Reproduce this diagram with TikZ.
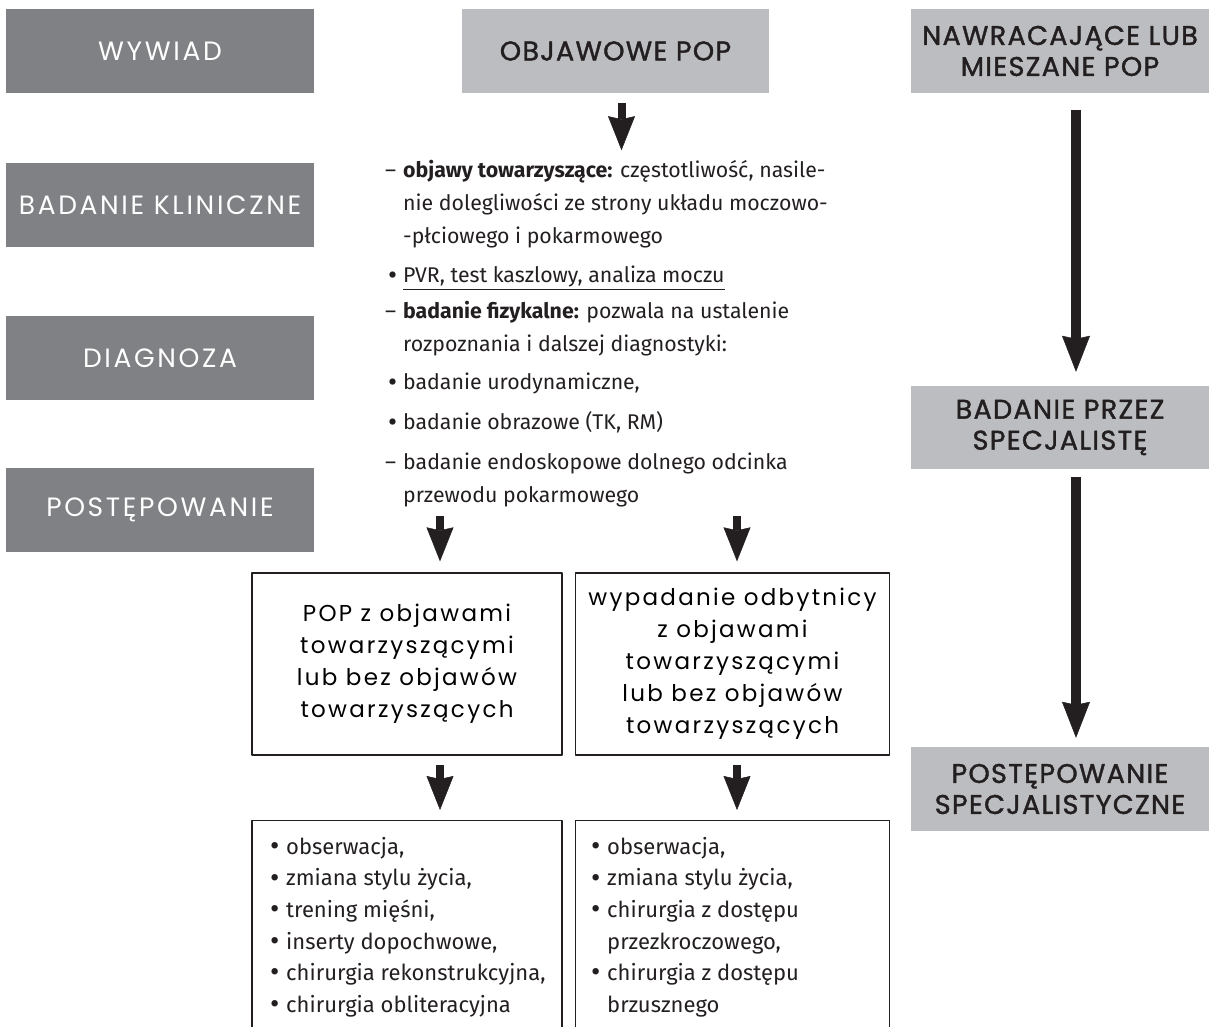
\documentclass[tikz,border=0pt]{standalone}
\usepackage{fontspec}
\setmainfont{Fira Sans}
\newfontfamily\geo{Poppins}[LetterSpace=10]
\newfontfamily\geodemi{Poppins}[FakeBold=1.5,LetterSpace=5]
\newfontfamily\geobox{Poppins}[LetterSpace=10]
\usetikzlibrary{arrows.meta,calc,positioning}
\definecolor{ciemny}{RGB}{128,129,133}
\definecolor{jasny}{RGB}{188,189,192}
\definecolor{tekst}{RGB}{35,31,32}
\newcommand\kropka{\raisebox{-0.1ex}{\scalebox{1.3}{\textbullet}}}
\tikzset{
  ciemnybox/.style={fill=ciemny,text=white,minimum width=308pt,minimum height=84pt,inner sep=0pt,font=\geo\fontsize{26.5}{30}\selectfont},
  jasnybox/.style={fill=jasny,text=tekst,minimum height=84pt,inner sep=0pt,align=center,font=\geodemi\fontsize{27}{31}\selectfont},
  ramka/.style={draw=tekst,line width=1.3pt,inner sep=0pt},
  strzalka/.style={tekst,line width=8pt,-{Stealth[length=34pt,width=27pt,inset=3pt,line width=0.5pt]}},
  dlugastrzalka/.style={tekst,line width=10pt,-{Stealth[length=36pt,width=28pt,inset=3pt,line width=0.5pt]}},
}
\begin{document}
\begin{tikzpicture}[x=1pt,y=-1pt,line join=round]
\useasboundingbox (0,0) rectangle (1209,1027);
\clip (0,0) rectangle (1209,1027);
% lewa kolumna
\node[ciemnybox] (wywiad) at (160,51) {WYWIAD};
\node[ciemnybox] (badanie) at (160,205) {BADANIE KLINICZNE};
\node[ciemnybox] (diagnoza) at (160,358) {DIAGNOZA};
\node[ciemnybox] (postep) at (160,510) {POSTĘPOWANIE};
% srodkowa kolumna
\node[jasnybox,minimum width=307pt] (objawowe) at (615.5,51) {OBJAWOWE POP};
\node[anchor=north west,align=left,inner sep=0pt,text=tekst,font=\fontsize{21.3}{33}\selectfont] (opis) at (385,160.5) {%
\makebox[18pt][l]{–}\textbf{objawy towarzyszące:} częstotliwość, nasile-\\
\hspace*{18pt}nie dolegliwości ze strony układu moczowo-\\
\hspace*{18pt}-płciowego i pokarmowego\\[6pt]
\makebox[18pt][l]{\hspace*{3pt}\kropka}\underline{PVR, test kaszlowy, analiza moczu}\\[3pt]
\makebox[18pt][l]{–}\textbf{badanie fizykalne:} pozwala na ustalenie\\
\hspace*{18pt}rozpoznania i dalszej diagnostyki:\\[5pt]
\makebox[18pt][l]{\hspace*{3pt}\kropka}badanie urodynamiczne,\\[7pt]
\makebox[18pt][l]{\hspace*{3pt}\kropka}badanie obrazowe (TK, RM)\\[7pt]
\makebox[18pt][l]{–}badanie endoskopowe dolnego odcinka\\
\hspace*{18pt}przewodu pokarmowego};
\coordinate (k1) at (440,0);
\coordinate (k2) at (737,0);
\node[ramka,minimum width=310pt,minimum height=182pt,align=center,font=\geobox\fontsize{23}{32}\selectfont] (pop1) at (407,664)
  {POP z objawami\\towarzyszącymi\\lub bez objawów\\towarzyszących};
\node[ramka,minimum width=314pt,minimum height=182pt,align=center,font=\geobox\fontsize{23}{32}\selectfont] (pop2) at (732.5,664)
  {wypadanie odbytnicy\\z objawami\\towarzyszącymi\\lub bez objawów\\towarzyszących};
\node[ramka,anchor=north,minimum width=310pt,minimum height=240pt] (lista1) at (407,820) {};
\node[ramka,anchor=north,minimum width=314pt,minimum height=240pt] (lista2) at (732.5,820) {};
\node[anchor=north west,align=left,inner sep=0pt,text=tekst,font=\fontsize{22}{31.6}\selectfont] (punkty1) at (270,837) {%
\makebox[16pt][l]{\kropka}obserwacja,\\
\makebox[16pt][l]{\kropka}zmiana stylu życia,\\
\makebox[16pt][l]{\kropka}trening mięśni,\\
\makebox[16pt][l]{\kropka}inserty dopochwowe,\\
\makebox[16pt][l]{\kropka}chirurgia rekonstrukcyjna,\\
\makebox[16pt][l]{\kropka}chirurgia obliteracyjna};
\node[anchor=north west,align=left,inner sep=0pt,text=tekst,font=\fontsize{22}{31.6}\selectfont] (punkty2) at (591,837) {%
\makebox[16pt][l]{\kropka}obserwacja,\\
\makebox[16pt][l]{\kropka}zmiana stylu życia,\\
\makebox[16pt][l]{\kropka}chirurgia z dostępu\\
\hspace*{16pt}przezkroczowego,\\
\makebox[16pt][l]{\kropka}chirurgia z dostępu\\
\hspace*{16pt}brzusznego};
% prawa kolumna
\node[jasnybox,minimum width=298pt] (nawrot) at (1060,51) {NAWRACAJĄCE LUB\\MIESZANE POP};
\node[jasnybox,minimum width=298pt,minimum height=83pt] (specbad) at (1060,427.5) {BADANIE PRZEZ\\SPECJALISTĘ};
\node[jasnybox,minimum width=298pt] (specpost) at (1060,789) {POSTĘPOWANIE\\SPECJALISTYCZNE};
% strzalki
\draw[strzalka] ($(objawowe.south)+(6,10)$) -- ($(objawowe.south)+(6,57)$);
\draw[strzalka] ($(pop1.north -| k1)+(0,-56)$) -- ($(pop1.north -| k1)+(0,-11)$);
\draw[strzalka] ($(pop2.north -| k2)+(0,-56)$) -- ($(pop2.north -| k2)+(0,-11)$);
\draw[strzalka] ($(lista1.north -| k1)+(0,-55)$) -- ($(lista1.north -| k1)+(0,-10)$);
\draw[strzalka] ($(lista2.north -| k2)+(0,-55)$) -- ($(lista2.north -| k2)+(0,-10)$);
\draw[dlugastrzalka,shorten <=17pt,shorten >=14pt] ([xshift=16pt]nawrot.south) -- ([xshift=16pt]specbad.north);
\draw[dlugastrzalka,shorten <=8pt,shorten >=9pt] ([xshift=16pt]specbad.south) -- ([xshift=16pt]specpost.north);
\end{tikzpicture}
\end{document}
